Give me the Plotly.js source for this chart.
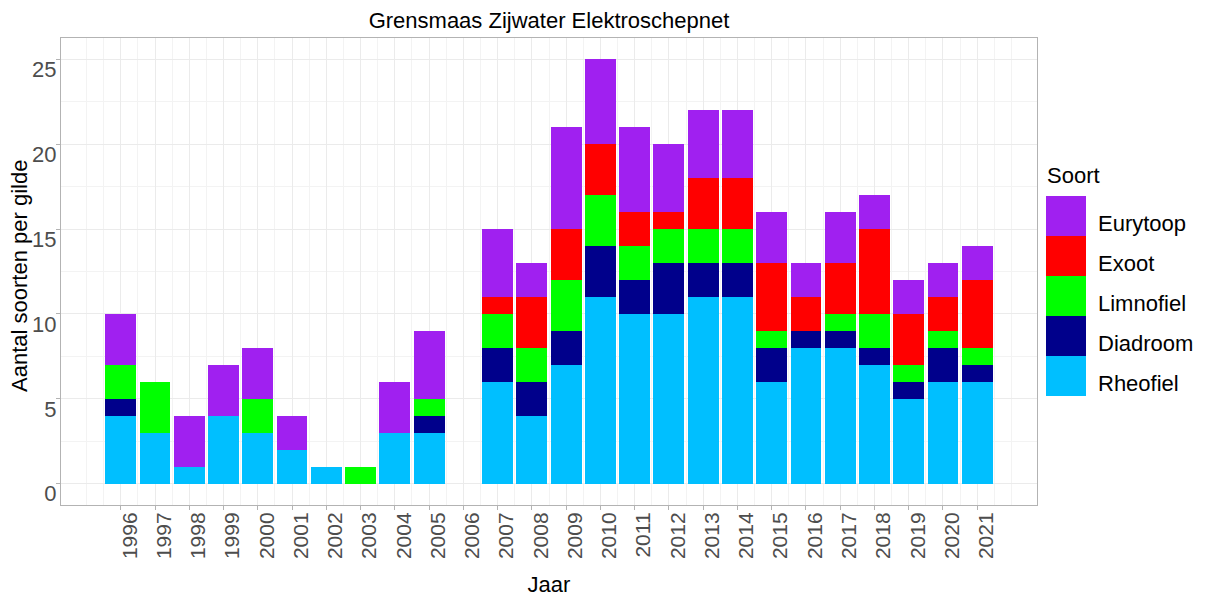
<!DOCTYPE html>
<html><head><meta charset="utf-8">
<script src="https://cdn.plot.ly/plotly-3.0.1.min.js"></script>
<style>body{margin:0;background:#fff}</style>
</head><body><div id="chart" style="width:1205px;height:597px"></div>
<script>
const years = [1996,1997,1998,1999,2000,2001,2002,2003,2004,2005,2006,2007,2008,2009,2010,2011,2012,2013,2014,2015,2016,2017,2018,2019,2020,2021];
const rheofiel  = [4,3,1,4,3,2,1,0,3,3,0,6,4,7,11,10,10,11,11,6,8,8,7,5,6,6];
const diadroom  = [1,0,0,0,0,0,0,0,0,1,0,2,2,2,3,2,3,2,2,2,1,1,1,1,2,1];
const limnofiel = [2,3,0,0,2,0,0,1,0,1,0,2,2,3,3,2,2,2,2,1,0,1,2,1,1,1];
const exoot     = [0,0,0,0,0,0,0,0,0,0,0,1,3,3,3,2,1,3,3,4,2,3,5,3,2,4];
const eurytoop  = [3,0,3,3,3,2,0,0,3,4,0,4,2,6,5,5,4,4,4,3,2,3,2,2,2,2];
const seriesNames = ['Rheofiel','Diadroom','Limnofiel','Exoot','Eurytoop'];
const seriesColors = ['#00BFFF','#00008B','#00FF00','#FF0000','#A020F0'];
const seriesValues = [rheofiel, diadroom, limnofiel, exoot, eurytoop];
const yTicks = [0,5,10,15,20,25];

const FONT = 'Liberation Sans, Arial, sans-serif';
const traces = seriesNames.map((n,i)=>({
  type:'bar', name:n, x:years, y:seriesValues[i], width:0.9,
  marker:{color:seriesColors[i], line:{width:0}}, showlegend:false
}));

// grid positions every half year
const minorGrid = [];
for (let v = years[0]-1; v <= years[years.length-1]+1; v += 0.5) minorGrid.push(v);

// plot area in pixels
const L=61, R=1037, T=38, B=505, W=1205, H=597;
const px2x = p => (p-L)/(R-L);
const py2y = p => (B-p)/(B-T);

const shapes = [], annotations = [];
// custom legend (top to bottom reverse of stack order)
annotations.push({xref:'paper', yref:'paper', x:px2x(1045), y:py2y(175), xanchor:'left', yanchor:'middle',
  text:'Soort', showarrow:false, font:{family:FONT, size:22, color:'#000'}});
const order = [4,3,2,1,0];
order.forEach((si,k)=>{
  const top = 196 + 40*k;
  shapes.push({type:'rect', xref:'paper', yref:'paper', x0:px2x(1046), x1:px2x(1086), y0:py2y(top+40), y1:py2y(top),
    fillcolor:seriesColors[si], line:{width:0}});
  annotations.push({xref:'paper', yref:'paper', x:px2x(1096), y:py2y(top+27), xanchor:'left', yanchor:'middle',
    text:seriesNames[si], showarrow:false, font:{family:FONT, size:22, color:'#000'}});
});
// y axis title placed as rotated annotation
annotations.push({xref:'paper', yref:'paper', x:px2x(19), y:py2y(276), xanchor:'center', yanchor:'middle',
  text:'Aantal soorten per gilde', textangle:-90, showarrow:false, font:{family:FONT, size:22, color:'#000'}});

const layout = {
  width:W, height:H, barmode:'stack', bargap:0,
  paper_bgcolor:'#fff', plot_bgcolor:'#fff',
  margin:{l:L, r:W-R, t:T, b:H-B},
  font:{family:FONT},
  title:{text:'Grensmaas Zijwater Elektroschepnet', x:0.5, xref:'paper', y:1-20/H, yref:'container', yanchor:'middle',
    font:{family:FONT, size:22, color:'#000'}},
  xaxis:{range:[1994.255, 2022.745], tickmode:'array', tickvals:years, ticktext:years.map(String),
    tickangle:-90, ticks:'outside', ticklen:4, tickcolor:'#b3b3b3', ticklabelshift:9, ticklabelstandoff:-6,
    tickfont:{family:FONT, size:21, color:'#4d4d4d'},
    showgrid:true, gridcolor:'#ebebeb', gridwidth:1,
    minor:{tickmode:'array', tickvals:minorGrid, showgrid:true, gridcolor:'#f3f3f3', gridwidth:1, ticks:''},
    showline:true, linecolor:'#b3b3b3', linewidth:1, mirror:true, zeroline:false,
    title:{text:'Jaar', font:{family:FONT, size:22, color:'#000'}, standoff:20}},
  yaxis:{range:[-1.25, 26.25], tickmode:'array', tickvals:yTicks, ticktext:yTicks.map(String),
    ticks:'outside', ticklen:4, tickcolor:'#b3b3b3', ticklabelshift:10, ticklabelstandoff:-5,
    tickfont:{family:FONT, size:22, color:'#4d4d4d'},
    showgrid:true, gridcolor:'#ebebeb', gridwidth:1,
    minor:{dtick:2.5, tick0:0, showgrid:true, gridcolor:'#f3f3f3', gridwidth:1, ticks:''},
    showline:true, linecolor:'#b3b3b3', linewidth:1, mirror:true, zeroline:false},
  shapes:shapes, annotations:annotations
};
Plotly.newPlot('chart', traces, layout, {displayModeBar:false, staticPlot:true});
</script>
</body></html>
